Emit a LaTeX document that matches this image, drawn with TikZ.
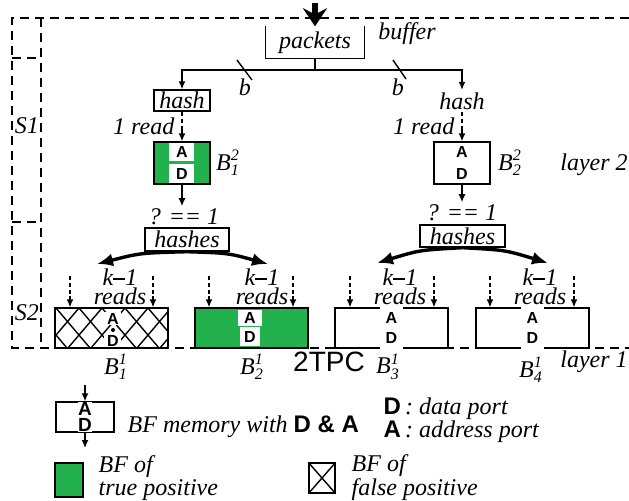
\documentclass[tikz,border=0pt]{standalone}
\usepackage{amsmath}
\usepackage{fontspec}
\setmainfont{Liberation Serif}
\setsansfont{Liberation Sans}
\usetikzlibrary{arrows.meta}
\definecolor{bfgreen}{RGB}{34,177,76}
\newcommand{\bflab}[2]{$\textit{B}^{\textit{#1}}_{\textit{#2}}$}
\newcommand{\kminus}{\textit{k}\rule[0.25em]{0.5em}{0.09em}\textit{1}}
\newcommand{\portfont}{\fontsize{8}{9}\selectfont\sffamily\bfseries}
\tikzset{
	lbl/.style={font={\fontsize{12}{14}\selectfont\itshape}, inner sep=1pt},
	lbltwo/.style={font={\fontsize{12}{10}\selectfont\itshape}, inner sep=1pt, align=left, anchor=west},
	reads/.style={font={\fontsize{12}{8}\selectfont\itshape}, inner sep=0pt, align=center},
	mem/.style={draw, rectangle, fill=white, inner sep=0pt, minimum width=28pt, minimum height=21pt},
	wide/.style={mem, minimum width=56.5pt, minimum height=20pt},
	hbox/.style={lbl, draw, inner sep=0pt},
	port/.style={font=\portfont, fill=white, inner sep=0pt},
	arr/.style={-{Latex[length=4pt,width=3.5pt]}},
	fat/.style={line width=1.7pt, -{Latex[length=8pt,width=6.5pt]}},
	sframe/.style={dash pattern=on 4.5pt off 3pt},
	readline/.style={dash pattern=on 2pt off 1.5pt}
}
\begin{document}
\begin{tikzpicture}[x=0.5pt,y=-0.5pt,line width=0.7pt]
	\useasboundingbox (0,0) rectangle (629,500);

	% stages S1 / S2
	\draw[sframe] (629,18) -- (12,18) -- (12,348) -- (629,348);
	\draw[sframe] (41,18) -- (41,348);
	\draw[sframe] (12,58) -- (41,58);
	\draw[sframe] (12,222) -- (41,222);
	\node[lbl] (s1) at (27,126) {S1};
	\node[lbl] (s2) at (27,313) {S2};

	% packet buffer
	\node[lbl, minimum width=49pt, minimum height=15.5pt] (pk) at (315,42.5) {packets};
	\draw (pk.north west) -- (pk.south west) -- (pk.south east) -- (pk.north east);
	\node[lbl] (buf) at (407,34) {buffer};
	\coordinate (in) at (315,3);
	\draw[line width=2.8pt, -{Stealth[length=9pt,width=12pt,inset=3pt]}] (in) -- (pk.north);
	\coordinate (sp) at (315,70);
	\draw (pk.south) -- (sp);

	\node[hbox, minimum width=28pt, minimum height=10.5pt] (h1) at (182,100.5) {hash};
	\node[lbl] (h2) at (462,101) {hash};
	\draw[arr] (sp) -| (h1.north);
	\draw[arr] (sp) -| (h2.north);
	\draw (237,60) -- (252,80);
	\draw (393,60) -- (406,79);
	\node[lbl] (b1) at (245,87) {b};
	\node[lbl] (b2) at (398,87) {b};

	% layer 2
	\node[mem, fill=bfgreen] (t1) at (182,163) {};
	\node[port, minimum width=12.5pt, minimum height=9pt] (t1a) at (182,152) {A};
	\node[port, minimum width=12.5pt, minimum height=9.5pt] (t1d) at (182,173.5) {D};
	\draw (t1.north west) rectangle (t1.south east);
	\node[mem] (t2) at (462,163) {};
	\node[port] (t2a) at (462,152) {A};
	\node[port] (t2d) at (462,174) {D};

	\coordinate (r1) at (182,126);
	\coordinate (r2) at (462,127);
	\draw[readline] (h1.south) -- (r1);
	\draw[readline] (h2.south) -- (r2);
	\draw[arr] (r1) -- (t1.north);
	\draw[arr] (r2) -- (t2.north);
	\node[lbl, anchor=east] (l1) at (177,126) {1 read};
	\node[lbl, anchor=east] (l2) at (457,126) {1 read};

	\node[lbl] (n1) at (228,163) {\bflab{2}{1}};
	\node[lbl] (n2) at (510,163) {\bflab{2}{2}};
	\node[lbl] (ly2) at (594,165) {layer 2};

	\node[lbl] (q1) at (184,217) {? == 1};
	\node[lbl] (q2) at (462,213) {? == 1};
	\node[hbox, minimum width=42pt, minimum height=11.5pt] (hs1) at (187,239.5) {hashes};
	\node[hbox, minimum width=42.5pt, minimum height=11pt] (hs2) at (462.5,236) {hashes};
	\draw[arr] (t1.south) -- (t1.south |- q1.north);
	\draw[arr] (t2.south) -- (t2.south |- q2.north);

	\coordinate (tl1) at (97,264);
	\coordinate (tr1) at (268,264);
	\coordinate (tl2) at (377,263);
	\coordinate (tr2) at (548,263);
	\draw[fat] (hs1.south) .. controls (140,253) .. (tl1);
	\draw[fat] (hs1.south) .. controls (228,253) .. (tr1);
	\draw[fat] (hs2.south) .. controls (420,250) .. (tl2);
	\draw[fat] (hs2.south) .. controls (505,250) .. (tr2);

	% layer 1
	\node[wide] (m1) at (111.5,328) {};
	\begin{scope}
		\clip (m1.north west) rectangle (m1.south east);
		\foreach \s in {10,33,...,210} {
			\draw (\s,308) -- ++(34,40);
			\draw (\s,308) -- ++(-34,40);
		}
	\end{scope}
	\node[port, minimum width=8.5pt, minimum height=6.5pt] (m1a) at (113,318.5) {A};
	\node[port, minimum width=8.5pt, minimum height=6pt] (m1d) at (113,341) {D};
	\fill (113,330) circle (1pt);
	\draw (m1.north west) rectangle (m1.south east);

	\node[wide, fill=bfgreen] (m2) at (251.5,328) {};
	\node[port, minimum width=12pt, minimum height=8pt] (m2a) at (250,318) {A};
	\node[port, minimum width=10pt, minimum height=9.5pt] (m2d) at (250,336.5) {D};
	\draw (m2.north west) rectangle (m2.south east);

	\node[wide] (m3) at (391.5,328) {};
	\node[port, minimum width=11.5pt, minimum height=11pt] (m3a) at (391.5,318) {A};
	\node[port, minimum width=11.5pt, minimum height=11pt] (m3d) at (391.5,338) {D};
	\node[wide] (m4) at (532.5,328) {};
	\node[port, minimum width=11.5pt, minimum height=11pt] (m4a) at (532.5,318) {A};
	\node[port, minimum width=11.5pt, minimum height=11pt] (m4d) at (532.5,338) {D};

	\coordinate (k1) at (70,276);  \coordinate (j1) at (70,296);
	\coordinate (k2) at (153,276); \coordinate (j2) at (153,296);
	\coordinate (k3) at (209,276); \coordinate (j3) at (209,296);
	\coordinate (k4) at (293,276); \coordinate (j4) at (293,296);
	\coordinate (k5) at (350,276); \coordinate (j5) at (350,296);
	\coordinate (k6) at (434,276); \coordinate (j6) at (434,296);
	\coordinate (k7) at (490,276); \coordinate (j7) at (490,296);
	\coordinate (k8) at (574,276); \coordinate (j8) at (574,296);

	\begin{scope}[every edge/.style={draw, readline}]
		\path (k1) edge (j1);
		\path (k2) edge (j2);
		\path (k3) edge (j3);
		\path (k4) edge (j4);
		\path (k5) edge (j5);
		\path (k6) edge (j6);
		\path (k7) edge (j7);
		\path (k8) edge (j8);
	\end{scope}
	\begin{scope}[every edge/.style={draw, arr}]
		\path (j1) edge (j1 |- m1.north);
		\path (j2) edge (j2 |- m1.north);
		\path (j3) edge (j3 |- m2.north);
		\path (j4) edge (j4 |- m2.north);
		\path (j5) edge (j5 |- m3.north);
		\path (j6) edge (j6 |- m3.north);
		\path (j7) edge (j7 |- m4.north);
		\path (j8) edge (j8 |- m4.north);
	\end{scope}

	\node[reads] (kr1) at (120,287) {\kminus\\reads};
	\node[reads] (kr2) at (262,287) {\kminus\\reads};
	\node[reads] (kr3) at (400,287) {\kminus\\reads};
	\node[reads] (kr4) at (540,287) {\kminus\\reads};

	\node[lbl] (n3) at (116,367) {\bflab{1}{1}};
	\node[lbl] (n4) at (252,367) {\bflab{1}{2}};
	\node[font={\fontsize{14}{16}\selectfont\sffamily}, inner sep=1pt] (tpc) at (329,362) {2TPC};
	\node[lbl] (n5) at (388,367) {\bflab{1}{3}};
	\node[lbl] (n6) at (531,370) {\bflab{1}{4}};
	\node[lbl] (ly1) at (594,362) {layer 1};

	% legend
	\node[mem, minimum width=29pt, minimum height=15pt] (lm) at (85,417) {};
	\node[port, font={\fontsize{9.5}{10}\selectfont\sffamily\bfseries}] (lma) at (85,409) {A};
	\node[port, font={\fontsize{9.5}{10}\selectfont\sffamily\bfseries}] (lmd) at (85,425) {D};
	\coordinate (la) at (85,385);
	\coordinate (lb) at (85,448);
	\draw[arr] (la) -- (lm.north);
	\draw[arr] (lm.south) -- (lb);
	\node[lbl, anchor=west] (lt1) at (125,427) {BF memory with {\upshape\sffamily\bfseries D \& A}};
	\node[lbl, anchor=west] (lt2) at (381,409) {{\upshape\sffamily\bfseries D}\,: data port};
	\node[lbl, anchor=west] (lt3) at (381,432) {{\upshape\sffamily\bfseries A}\,: address port};

	\node[draw, fill=bfgreen, minimum width=14pt, minimum height=17pt, inner sep=0pt] (gs) at (69,480) {};
	\node[lbltwo] (gt) at (96,478) {BF of\\true positive};
	\node[draw, minimum width=13pt, minimum height=15pt, inner sep=0pt] (cs) at (322,478) {};
	\draw (cs.north west) -- (cs.south east) (cs.north east) -- (cs.south west);
	\node[lbltwo] (ct) at (349,478) {BF of\\false positive};
\end{tikzpicture}
\end{document}
